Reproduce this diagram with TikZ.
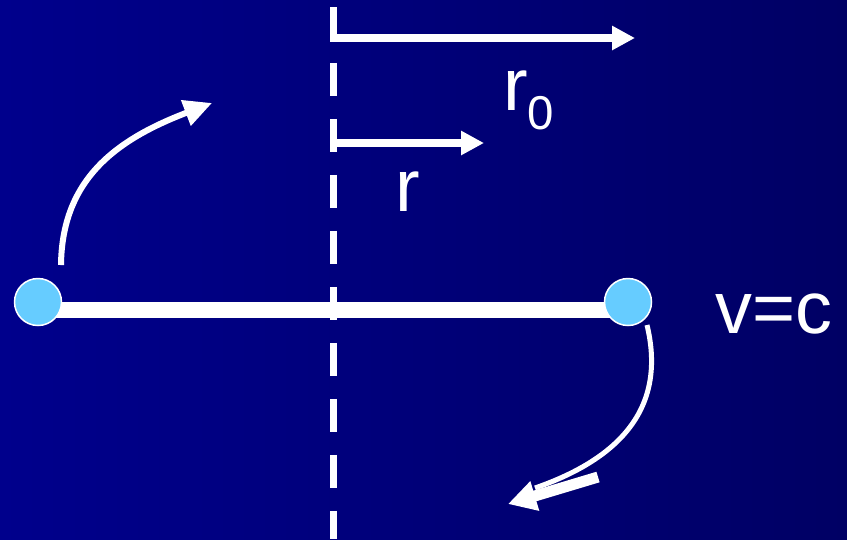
\documentclass[tikz,border=0pt]{standalone}
\usepackage{fontspec}
\setmainfont{Liberation Sans}
\usetikzlibrary{arrows.meta}
\definecolor{bgleft}{RGB}{0,0,140}
\definecolor{bgright}{RGB}{0,0,100}
\definecolor{ballblue}{RGB}{102,204,255}
\begin{document}
\begin{tikzpicture}[x=0.02cm,y=-0.02cm,
  arr/.style={white,line width=0.15cm,-{Triangle[length=0.46cm,width=0.46cm]}},
  swing/.style={white,line width=0.12cm,-{Triangle[length=0.56cm,width=0.52cm]}},
  ball/.style={circle,draw=white,line width=0.85pt,fill=ballblue,minimum size=0.94cm,inner sep=0pt},
  lbl/.style={white,inner sep=0pt,anchor=base west,font=\fontsize{42}{48}\selectfont}]
\useasboundingbox (0,0) rectangle (847,539);
\shade[left color=bgleft,right color=bgright] (0,0) rectangle (847,539);
\coordinate (axtop) at (333,7); \coordinate (axbot) at (333,539);
\coordinate (r0from) at (330,38); \coordinate (r0to) at (635,38);
\coordinate (rfrom) at (330,143); \coordinate (rto) at (484,143);
\coordinate (barL) at (40,310); \coordinate (barR) at (626,310);
\coordinate (upfrom) at (61,265); \coordinate (upto) at (212,103);
\coordinate (downfrom) at (647,325); \coordinate (downend) at (535,488);
\coordinate (downtail) at (598,477); \coordinate (downto) at (508,504);
\draw[white,line width=0.32cm] (barL)--(barR);
\draw[white,line width=0.14cm,dash pattern=on 0.66cm off 0.46cm] (axtop)--(axbot);
\draw[arr] (r0from)--(r0to);\draw[arr] (rfrom)--(rto);
\node[ball] (leftball) at (38,302) {};
\node[ball] (rightball) at (628,302) {};
\draw[swing] (upfrom) .. controls (62,180) and (115,140) .. (upto);
\draw[white,line width=0.1cm] (downfrom) .. controls (665,400) and (630,455) .. (downend);
\draw[white,line width=0.22cm,-{Triangle[length=0.56cm,width=0.58cm]}] (downtail)--(downto);
\node[lbl] (r0lbl) at (503,110) {r\raisebox{-0.38cm}{\fontsize{27}{30}\selectfont 0}};
\node[lbl] (rlbl) at (395,211) {r};
\node[lbl] (vlbl) at (715,333) {v=c};
\end{tikzpicture}
\end{document}
